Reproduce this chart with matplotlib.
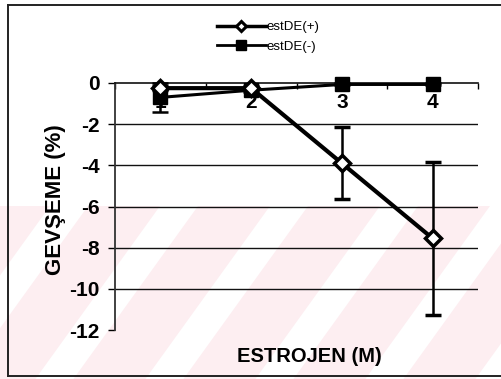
import matplotlib
matplotlib.use("Agg")
import matplotlib.pyplot as plt
from matplotlib.patches import Polygon
from matplotlib.lines import Line2D

plt.rcParams.update({"font.family": ["Liberation Sans", "DejaVu Sans"]})

# data
doses = [1, 2, 3, 4]
dose_labels = ["1", "2", "3", "4"]
plus_mean = [-0.25, -0.25, -3.9, -7.55]
plus_err = [0.1, 0.1, 1.75, 3.7]
minus_mean = [-0.7, -0.35, -0.07, -0.07]
minus_err = [0.7, 0.1, 0.05, 0.05]
yticks = [0, -2, -4, -6, -8, -10, -12]

W, H = 501, 379
fig = plt.figure(figsize=(W / 100, H / 100), dpi=100)


def fx(px):
    return px / W


def fy(py):
    return 1 - py / H


# pink watermark stripes in the lower part of the scan
band_top, slope, period, white_w = 206, 0.72, 110, 38
pink = "#fdeef1"
fig.add_artist(Polygon([(0, fy(band_top)), (1, fy(band_top)), (1, 0), (0, 0)],
                       closed=True, transform=fig.transFigure, facecolor=pink,
                       edgecolor="none", zorder=-3))
drop = (H - band_top) * slope
for k in range(-1, 8):
    a = 50 + k * period
    pts = [(fx(a), fy(band_top)), (fx(a + white_w), fy(band_top)),
           (fx(a + white_w - drop), fy(H)), (fx(a - drop), fy(H))]
    fig.add_artist(Polygon(pts, closed=True, transform=fig.transFigure,
                           facecolor="white", edgecolor="none", zorder=-2))

# outer frame (left, top, bottom only)
for xs, ys in [([8, 8], [5, 376]), ([8, 501], [5, 5]), ([8, 501], [376, 376])]:
    fig.add_artist(Line2D([fx(x) for x in xs], [fy(y) for y in ys],
                          transform=fig.transFigure, color="#222222", lw=1.4))

ax = fig.add_axes([fx(115), fy(330), fx(478 - 115), (330 - 83) / H])
ax.set_facecolor("none")
ax.set_xlim(0.5, 4.5)
ax.set_ylim(-12, 0)

for v in yticks[1:-1]:
    ax.axhline(v, color="#111111", lw=1.0, zorder=1)

ax.errorbar(doses, minus_mean, yerr=minus_err, color="black", lw=2.2,
            marker="s", ms=10, mfc="black", mec="black", ecolor="black",
            elinewidth=1.8, capsize=6, capthick=1.8, clip_on=False, zorder=3)
ax.errorbar(doses, plus_mean, yerr=plus_err, color="black", lw=3,
            marker="D", ms=8, mfc="white", mec="black", mew=2.5, ecolor="black",
            elinewidth=1.8, capsize=6, capthick=1.8, clip_on=False, zorder=4)

for s in ["top", "right"]:
    ax.spines[s].set_visible(False)
ax.spines["bottom"].set_position(("data", 0))
ax.spines["bottom"].set_color("#111111")
ax.spines["bottom"].set_linewidth(1.2)
ax.spines["left"].set_color("#333333")
ax.spines["left"].set_linewidth(1.3)

ax.set_xticks(doses)
ax.set_xticklabels(dose_labels, fontsize=15, fontweight="bold")
ax.set_xticks([0.5, 1.5, 2.5, 3.5, 4.5], minor=True)
ax.tick_params(axis="x", which="major", length=0, pad=7)
ax.tick_params(axis="x", which="minor", length=4, direction="out", width=1)
ax.set_yticks(yticks)
ax.set_yticklabels([str(v) for v in yticks], fontsize=15, fontweight="bold")
ax.tick_params(axis="y", length=5, width=1, pad=6)

fig.text(fx(309), fy(356), "ESTROJEN (M)", fontsize=14.5, fontweight="bold",
         ha="center", va="center")
fig.text(fx(55), fy(200), "GEVŞEME (%)", fontsize=16, fontweight="bold",
         rotation=90, ha="center", va="center")

handles = [
    Line2D([], [], color="black", lw=2.5, marker="D", ms=5, mfc="white",
           mec="black", mew=2.2),
    Line2D([], [], color="black", lw=2.0, marker="s", ms=7, mfc="black",
           mec="black"),
]
fig.legend(handles, ["estDE(+)", "estDE(-)"], loc="center",
           bbox_to_anchor=(fx(268), fy(37)), frameon=False, fontsize=9.5,
           handlelength=3.7, handletextpad=0.05, labelspacing=0.55, borderpad=0)

fig.savefig("out.png", dpi=100)
